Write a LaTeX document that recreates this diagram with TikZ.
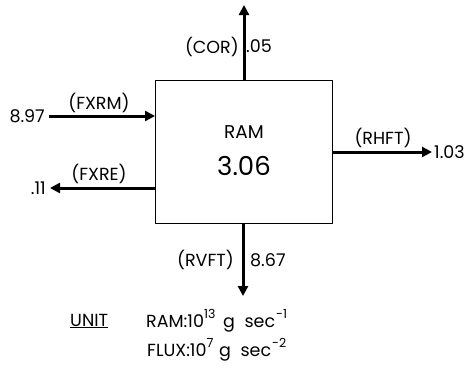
\documentclass[tikz,border=0pt]{standalone}
\usepackage{fontspec}
\setmainfont{Poppins}
\usetikzlibrary{arrows.meta}
\newcommand{\supx}[1]{\raisebox{0.9ex}{\fontsize{12.5}{12}\selectfont #1}}
\begin{document}
\begin{tikzpicture}[x=1pt,y=-1pt,
  lbl/.style={inner sep=0pt,font=\fontsize{17.5}{19}\selectfont},
  flow/.style={line width=3pt,-{Triangle[length=10pt,width=10pt]}},
  boxst/.style={draw,line width=1pt,minimum width=177pt,minimum height=143pt,inner sep=0pt}]
\useasboundingbox (0,0) rectangle (476,372);
\node[boxst] (box) at (243.5,151.5) {};
\node[lbl,font=\fontsize{18.5}{20}\selectfont] (ramlbl) at (244,132.5) {RAM};
\node[inner sep=0pt,font=\fontsize{26}{28}\selectfont] (ramval) at (244,166) {3.06};
% inflow FXRM
\coordinate (fxrmS) at (49,116);
\coordinate (fxrmE) at (155,116);
\draw[flow] (fxrmS) -- (fxrmE);
\node[lbl,anchor=east] (v897) at (45,116) {8.97};
\node[lbl] (fxrm) at (99,103) {(FXRM)};
% outflow FXRE
\coordinate (fxreS) at (155,188);
\coordinate (fxreE) at (50,188);
\draw[flow] (fxreS) -- (fxreE);
\node[lbl,anchor=east] (v11) at (46,188) {.11};
\node[lbl] (fxre) at (99,174) {(FXRE)};
% outflow RHFT
\coordinate (rhftS) at (332,152);
\coordinate (rhftE) at (432,152);
\draw[flow] (rhftS) -- (rhftE);
\node[lbl,anchor=west] (v103) at (434,152) {1.03};
\node[lbl] (rhft) at (383,138) {(RHFT)};
% COR up
\coordinate (corS) at (244,80);
\coordinate (corE) at (244,5);
\draw[flow] (corS) -- (corE);
\node[lbl,anchor=east] (cor) at (239,47) {(COR)};
\node[lbl,anchor=west] (v05) at (246,46) {.05};
% RVFT down
\coordinate (rvftS) at (243,223);
\coordinate (rvftE) at (243,296);
\draw[flow] (rvftS) -- (rvftE);
\node[lbl,anchor=east] (rvft) at (234,260) {(RVFT)};
\node[lbl,anchor=west] (v867) at (250,260) {8.67};
% units
\node[lbl,anchor=west] (unit) at (70,321) {\underline{UNIT}};
\node[lbl,anchor=west] (uram) at (146,321) {RAM:10\supx{13}\hspace{3pt} g\hspace{5pt} sec\hspace{1pt}\supx{-1}};
\node[lbl,anchor=west] (uflux) at (147,350) {FLUX:10\supx{7}\hspace{1pt} g\hspace{5pt} sec\hspace{1pt}\supx{-2}};
\end{tikzpicture}
\end{document}
